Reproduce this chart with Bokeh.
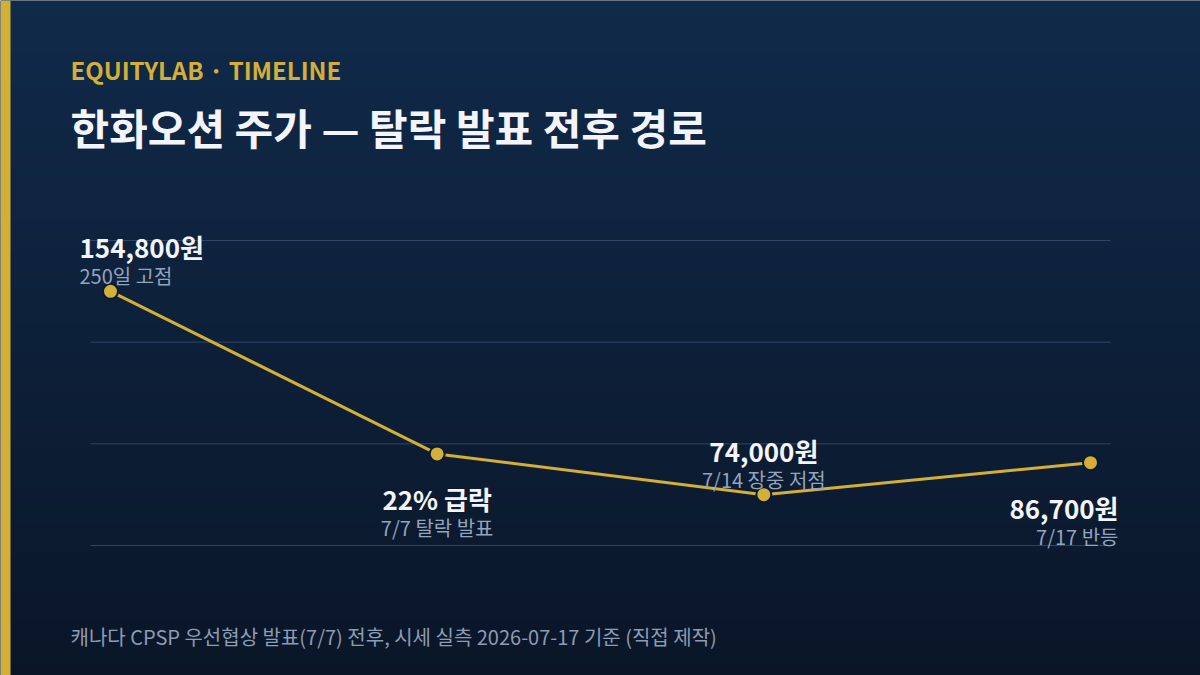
import numpy as np
from bokeh.plotting import figure
from bokeh.models import Label, Range1d
from bokeh.embed import file_html
from bokeh.resources import INLINE

# data
steps = ["250일 고점", "7/7 탈락 발표", "7/14 장중 저점", "7/17 반등"]
prices = [154800, 90200, 74000, 86700]
headlines = ["154,800원", "22% 급락", "74,000원", "86,700원"]

kicker = "EQUITYLAB · TIMELINE"
title = "한화오션 주가 — 탈락 발표 전후 경로"
caption = "캐나다 CPSP 우선협상 발표(7/7) 전후, 시세 실측 2026-07-17 기준 (직접 제작)"

# style / layout
GOLD = "#d4af37"
TOP_BG = (16, 42, 74)
BOT_BG = (10, 22, 40)
FONT = "Noto Sans CJK KR"
W, H = 1200, 675
PL, PR, PT, PB = 90, 1110, 240, 545   # plot box in pixels
INSET = 20

n = len(prices)
xs = np.arange(n)
px_x = (PR - PL - 2 * INSET) / (n - 1)
x_start = -(PL + INSET) / px_x
x_end = x_start + W / px_x

lo, hi = min(prices), max(prices)
span = hi - lo
y_lo, y_hi = lo - 0.25 * span, hi + 0.25 * span
upp = (y_hi - y_lo) / (PB - PT)
y_top = y_hi + PT * upp
y_bot = y_top - H * upp

p = figure(width=W, height=H, x_range=Range1d(x_start, x_end), y_range=Range1d(y_bot, y_top),
           output_backend="svg", toolbar_location=None, min_border=0)
p.axis.visible = False
p.grid.visible = False
p.outline_line_color = None
p.background_fill_color = "#0c1e38"
p.border_fill_color = "#0c1e38"

# gradient background
rows = 256
t = np.linspace(0, 1, rows)[:, None]
img = np.empty((rows, 2), dtype=np.uint32)
view = img.view(dtype=np.uint8).reshape((rows, 2, 4))
for k in range(3):
    view[..., k] = np.round(BOT_BG[k] + (TOP_BG[k] - BOT_BG[k]) * t).astype(np.uint8)
view[..., 3] = 255
p.image_rgba(image=[img], x=x_start, y=y_bot, dw=x_end - x_start, dh=y_top - y_bot)

# gold edge bar
p.quad(left=x_start, right=x_start + 10 / px_x, bottom=y_bot, top=y_top,
       fill_color=GOLD, line_color=None)

# gridlines
grid_vals = np.linspace(y_lo, y_hi, 4)
pad = INSET / px_x
p.segment(x0=-pad, x1=n - 1 + pad, y0=grid_vals, y1=grid_vals,
          line_color="#2f4566", line_width=1)

p.line(xs, prices, line_color=GOLD, line_width=3)
p.scatter(xs, prices, size=15, fill_color=GOLD, line_color="#0a1a30", line_width=2)

# point labels
align = ["left", "center", "center", "right"]
dx = {"left": -31, "center": 0, "right": 28}
above = [True, False, True, False]
for i in range(n):
    a = align[i]
    hy, sy = (44.5, 15.5) if above[i] else (-45, -73.5)
    p.add_layout(Label(x=xs[i], y=prices[i], x_offset=dx[a], y_offset=hy, text=headlines[i],
                       text_align=a, text_baseline="alphabetic", text_font=FONT,
                       text_font_style="bold", text_font_size="26px", text_color="#f3f5fa"))
    p.add_layout(Label(x=xs[i], y=prices[i], x_offset=dx[a], y_offset=sy, text=steps[i],
                       text_align=a, text_baseline="alphabetic", text_font=FONT,
                       text_font_size="20px", text_color="#93a4bd"))

# header / footer
p.add_layout(Label(x=70, y=606.5, x_units="screen", y_units="screen", text=kicker,
                   text_font=FONT, text_font_style="bold", text_font_size="24px",
                   text_color=GOLD, text_baseline="alphabetic"))
p.add_layout(Label(x=70, y=549, x_units="screen", y_units="screen", text=title,
                   text_font=FONT, text_font_style="bold", text_font_size="42px",
                   text_color="#f3f5fa", text_baseline="alphabetic"))
p.add_layout(Label(x=70, y=39.5, x_units="screen", y_units="screen", text=caption,
                   text_font=FONT, text_font_size="20px",
                   text_color="#8d9cb3", text_baseline="alphabetic"))

open("out.html", "w").write(file_html(p, INLINE))
